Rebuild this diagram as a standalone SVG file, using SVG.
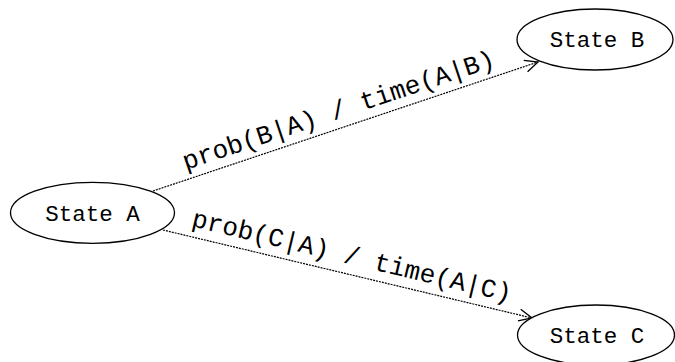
<svg xmlns="http://www.w3.org/2000/svg" width="675" height="362" viewBox="0 0 675 362">
  <style>
    .node ellipse { fill: #ffffff; stroke: #000000; stroke-width: 1.3; }
    .node text { font-family: "Liberation Mono", "Courier New", monospace; font-size: 22.5px; fill: #000000; text-anchor: middle; }
    .edge { fill: none; stroke: #000000; stroke-width: 1.2; stroke-dasharray: 2 1; }
    .label { font-family: "Liberation Mono", "Courier New", monospace; font-size: 26px; fill: #000000; text-anchor: middle; }
  </style>
  <defs>
    <marker id="arrow" markerUnits="userSpaceOnUse" markerWidth="16" markerHeight="14" refX="14" refY="7" orient="auto" overflow="visible">
      <path d="M1,1 L14,7 L1,13" fill="none" stroke="#000000" stroke-width="1.3"/>
    </marker>
  </defs>

  <rect width="675" height="362" fill="#ffffff"/>

  <g id="connectors">
    <line class="edge" x1="153" y1="191" x2="538" y2="62" marker-end="url(#arrow)"/>
    <line class="edge" x1="163" y1="230" x2="532" y2="318" marker-end="url(#arrow)"/>
    <text class="label" transform="translate(341,118) rotate(-18.5)">prob(B|A) / time(A|B)</text>
    <text class="label" transform="translate(350,264) rotate(13.4)">prob(C|A) / time(A|C)</text>
  </g>

  <g id="state-a" class="node">
    <ellipse cx="92.5" cy="212.8" rx="82" ry="30.5"/>
    <text x="92.5" y="220.5">State A</text>
  </g>

  <g id="state-b" class="node">
    <ellipse cx="595" cy="39.5" rx="78" ry="30.5"/>
    <text x="597" y="46.7">State B</text>
  </g>

  <g id="state-c" class="node">
    <ellipse cx="596" cy="335" rx="78.5" ry="30"/>
    <text x="597" y="342.7">State C</text>
  </g>
</svg>
